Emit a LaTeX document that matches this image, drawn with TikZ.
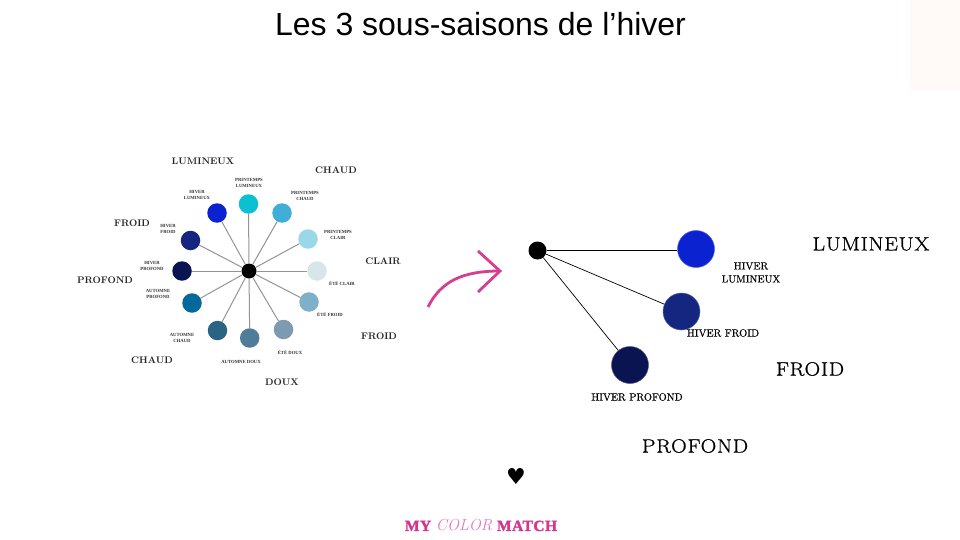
\documentclass[tikz,border=0pt]{standalone}
\usepackage{fontspec}
\newfontfamily\titlefont{Liberation Sans}
\newfontfamily\heartfont{DejaVu Sans}
\newfontfamily\logofont[FakeBold=1.6,LetterSpace=3]{Liberation Serif Bold}
\newfontfamily\tinyfont{Liberation Serif Bold}
\newfontfamily\rbigfont[FakeBold=0.9,FakeStretch=1.12,LetterSpace=4]{Latin Modern Roman}
\newfontfamily\rsmallfont[FakeBold=0.3]{Latin Modern Roman}
\begin{document}
\begin{tikzpicture}[x=1pt,y=-1pt,
  dotw/.style={circle,inner sep=0pt,minimum size=19.5pt,fill=#1},
  dotr/.style={circle,inner sep=0pt,minimum size=37pt,fill=#1,draw=#1!70!white,line width=.5pt},
  hub/.style={circle,fill=black,inner sep=0pt,minimum size=#1},
  spoke/.style={draw=black!42,line width=1pt},
  ray/.style={draw=black,line width=.7pt},
  big/.style={font=\fontsize{9.6}{11}\selectfont\bfseries,text=black!85,inner sep=0pt},
  tiny/.style={font=\fontsize{4.7}{6}\selectfont\tinyfont,text=black!80,align=center,inner sep=0pt},
  rbig/.style={font=\fontsize{19.3}{22}\selectfont\rbigfont,text=black,inner sep=0pt},
  rsmall/.style={font=\fontsize{10.5}{13}\selectfont\rsmallfont,text=black,align=center,inner sep=0pt},
  pinkarrow/.style={draw=arrowpink,line width=2.8pt}]
\definecolor{arrowpink}{HTML}{D63F8F}
\definecolor{logopink}{HTML}{D5348F}
\definecolor{cornertint}{HTML}{FFFAF8}
\useasboundingbox (0,0) rectangle (960,540);
\fill[white] (0,0) rectangle (960,540);
\fill[cornertint] (910,0) rectangle (960,90);
\node[font=\fontsize{32}{34}\selectfont\titlefont,inner sep=0pt] (title) at (480.5,24) {Les 3 sous-saisons de l’hiver};
% wheel
\node[hub=15pt] (wc) at (249,271) {};
\definecolor{c1}{HTML}{0A22D0}\definecolor{c2}{HTML}{0BC0D0}\definecolor{c3}{HTML}{40AED6}
\definecolor{c4}{HTML}{9AD8E8}\definecolor{c5}{HTML}{D8E6EA}\definecolor{c6}{HTML}{7EB0CC}
\definecolor{c7}{HTML}{7D9BB0}\definecolor{c8}{HTML}{4F7C9A}\definecolor{c9}{HTML}{2A6485}
\definecolor{c10}{HTML}{05689A}\definecolor{c11}{HTML}{0A1450}\definecolor{c12}{HTML}{14267F}
\node[dotw=c1] (w1) at (217,213) {};
\node[dotw=c2] (w2) at (248.5,204) {};
\node[dotw=c3] (w3) at (282,213) {};
\node[dotw=c4] (w4) at (308,239) {};
\node[dotw=c5] (w5) at (317,271) {};
\node[dotw=c6] (w6) at (309,302) {};
\node[dotw=c7] (w7) at (283.5,329.5) {};
\node[dotw=c8] (w8) at (249.7,338) {};
\node[dotw=c9] (w9) at (217.5,330.5) {};
\node[dotw=c10] (w10) at (192,303) {};
\node[dotw=c11] (w11) at (182,271) {};
\node[dotw=c12] (w12) at (190.5,240.5) {};
\foreach \i in {1,...,12} \draw[spoke] (wc) -- (w\i);
\node[big] (l1) at (203,161) {LUMINEUX};
\node[big] (l2) at (336,170) {CHAUD};
\node[big] (l3) at (132,223.5) {FROID};
\node[big] (l4) at (383,261) {CLAIR};
\node[big] (l5) at (105,280) {PROFOND};
\node[big] (l6) at (379,336) {FROID};
\node[big] (l7) at (152,360) {CHAUD};
\node[big] (l8) at (282,382) {DOUX};
\node[tiny] (t1) at (197,194.5) {HIVER\\LUMINEUX};
\node[tiny] (t2) at (249,183) {PRINTEMPS\\LUMINEUX};
\node[tiny] (t3) at (305,196) {PRINTEMPS\\CHAUD};
\node[tiny] (t4) at (338,235) {PRINTEMPS\\CLAIR};
\node[tiny] (t5) at (342,284) {ÉTÉ CLAIR};
\node[tiny] (t6) at (330,315) {ÉTÉ FROID};
\node[tiny] (t7) at (290,353) {ÉTÉ DOUX};
\node[tiny] (t8) at (241,362) {AUTOMNE DOUX};
\node[tiny] (t9) at (182,338) {AUTOMNE\\CHAUD};
\node[tiny] (t10) at (158,294) {AUTOMNE\\PROFOND};
\node[tiny] (t11) at (152,266) {HIVER\\PROFOND};
\node[tiny] (t12) at (168,229) {HIVER\\FROID};
% arrow
\coordinate (a0) at (428,307);
\coordinate (a1) at (500,271);
\coordinate (h1) at (478,251);
\coordinate (h2) at (478,292);
\draw[pinkarrow] (a0) .. controls (441,281) and (463,271) .. (a1);
\draw[pinkarrow] (h1) -- (a1) -- (h2);
% right
\node[hub=18pt] (rc) at (537.5,250.5) {};
\node[dotr=c1] (r1) at (696,249) {};
\node[dotr=c12] (r2) at (681.5,311.5) {};
\node[dotr=c11] (r3) at (630,365) {};
\draw[ray,line width=.9pt] (rc) -- (r1.west |- rc);
\draw[ray] (rc) -- (r2);
\draw[ray] (rc) -- (r3);
\node[rbig] (b1) at (871,244) {LUMINEUX};
\node[rbig] (b2) at (810,369) {FROID};
\node[rbig] (b3) at (695,446) {PROFOND};
\node[rsmall] (s1) at (751,272.5) {HIVER\\LUMINEUX};
\node[rsmall] (s2) at (723,333) {HIVER FROID};
\node[rsmall] (s3) at (637,397) {HIVER PROFOND};
\node[font=\fontsize{22}{24}\selectfont\heartfont,inner sep=0pt] (heart) at (516,476) {♥};
\node[inner sep=0pt,text=logopink,font=\fontsize{15.5}{17}\selectfont] (logo) at (481,525.5)
  {{\logofont MY} {\itshape\fontsize{16}{17}\selectfont\color{logopink!65}COLOR} {\logofont MATCH}};
\end{tikzpicture}
\end{document}
